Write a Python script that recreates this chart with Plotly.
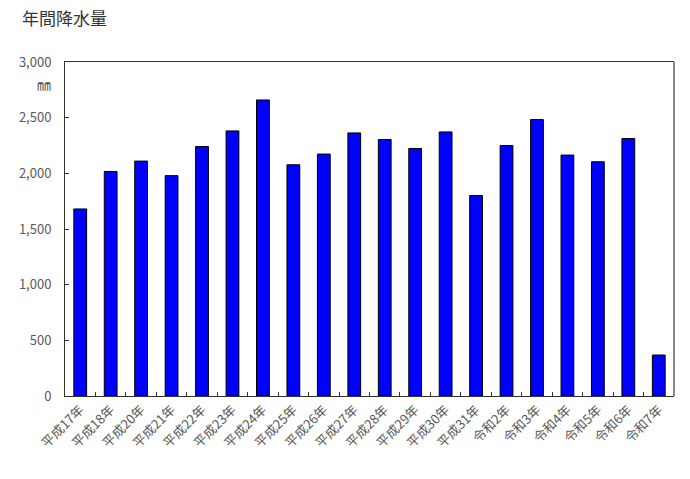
import plotly.graph_objects as go

categories = ["平成17年", "平成18年", "平成20年", "平成21年", "平成22年", "平成23年", "平成24年",
              "平成25年", "平成26年", "平成27年", "平成28年", "平成29年", "平成30年", "平成31年",
              "令和2年", "令和3年", "令和4年", "令和5年", "令和6年", "令和7年"]
rainfall = [1680, 2017, 2110, 1979, 2241, 2381, 2659, 2077, 2173, 2363,
            2304, 2223, 2372, 1800, 2250, 2483, 2164, 2104, 2313, 368]
y_ticks = [0, 500, 1000, 1500, 2000, 2500, 3000]

FONT = "Noto Sans CJK JP"

fig = go.Figure(go.Bar(
    x=categories, y=rainfall,
    marker=dict(color="#0000FF", line=dict(color="#000000", width=1)),
    width=0.42,
))

fig.update_layout(
    width=690, height=479,
    margin=dict(l=65, r=16, t=62, b=83, autoexpand=False),
    paper_bgcolor="white", plot_bgcolor="white",
    showlegend=False,
    font=dict(family=FONT, color="#595959"),
    title=dict(text="年間降水量", xref="container", yref="container",
               x=22 / 690, y=1 - 19 / 479, xanchor="left", yanchor="middle",
               font=dict(size=17, color="#333333", family=FONT)),
    xaxis=dict(
        automargin=False,
        showline=True, linecolor="#333333", linewidth=1, mirror=True,
        ticks="inside", ticklen=4, tickcolor="#333333", tickson="boundaries",
        tickangle=-45, tickfont=dict(size=13, color="#595959", family=FONT),
        showgrid=False,
    ),
    yaxis=dict(
        automargin=False,
        range=[0, 3000], tickvals=y_ticks, tickformat=",d",
        showline=True, linecolor="#333333", linewidth=1,
        ticks="inside", ticklen=4, tickcolor="#333333",
        tickfont=dict(size=13, color="#595959", family=FONT),
        ticklabelstandoff=10,
        showgrid=False, zeroline=False,
    ),
    shapes=[dict(type="line", xref="paper", yref="paper", x0=1, x1=1, y0=0, y1=1,
                 line=dict(color="#888888", width=2))],
    annotations=[
        dict(text="㎜", xref="paper", yref="paper", x=0, xshift=-12, y=1, yshift=-22,
             xanchor="right", yanchor="middle", showarrow=False,
             font=dict(size=14, color="#595959", family=FONT)),
    ],
)

fig.write_html("out.html", config={"displayModeBar": False},
               post_script="document.body.style.margin='0';")
